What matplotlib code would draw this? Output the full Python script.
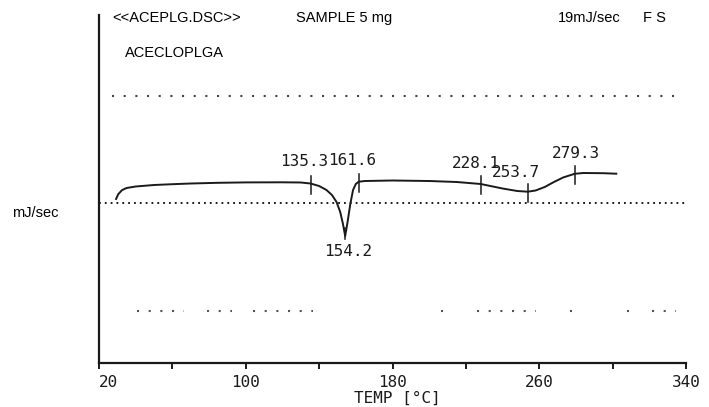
import matplotlib.pyplot as plt
import numpy as np

plt.rcParams["lines.scale_dashes"] = False

INK = "#1a1a1a"
MONO = "DejaVu Sans Mono"
SANS = "Liberation Sans"

# DSC trace (temperature in deg C, heat flow in chart units)
temp = [29.3, 30.5, 32.5, 35, 40, 50, 60, 70, 85, 100, 120, 130, 135.3, 140,
        144, 147, 149.5, 151.5, 153, 154.2, 155.5, 157, 158.5, 160, 161.6, 165,
        180, 200, 215, 228.1, 240, 248, 253.7, 258, 263, 268, 273, 279.3, 284,
        295, 302]
heat_flow = [163.7, 168.5, 172.5, 174.7, 176.2, 177.7, 178.5, 179.2, 179.9,
             180.3, 180.4, 180.2, 179.2, 176.7, 172.7, 167.7, 160.7, 150.7,
             138.7, 126.7, 140.7, 158.7, 172.7, 178.7, 181.0, 181.7, 182.2,
             181.7, 180.7, 178.7, 174.2, 171.7, 171.0, 172.2, 175.7, 180.7,
             185.2, 188.9, 189.7, 189.5, 189.0]

peak_temps = [135.3, 154.2, 161.6, 228.1, 253.7, 279.3]
peak_labels = ["135.3", "154.2", "161.6", "228.1", "253.7", "279.3"]
label_x = [131.8, 155.8, 158.0, 225.7, 247.5, 280.2]
label_y = [201.7, 110.7, 202.2, 198.7, 190.5, 209.0]

x_ticks = [20, 60, 100, 140, 180, 220, 260, 300, 340]
x_tick_labels = ["20", "", "100", "", "180", "", "260", "", "340"]

baseline_y = 160.0
upper_grid_y = 266.7
lower_grid_y = 51.7
lower_grid_runs = [(40.7, 66.4), (78.9, 92.6), (104.0, 136.7), (206.5, 207.5),
                   (226.0, 258.4), (277.0, 278.0), (308.0, 309.0), (321.7, 334.3)]


def main() -> None:
    fig = plt.figure(figsize=(7.09, 4.07), dpi=100)
    ax = fig.add_axes([99 / 709, 44.3 / 407, 587 / 709, 347.7 / 407])

    ax.set_xlim(20, 340)
    ax.set_ylim(0, 347.7)

    # dotted reference lines
    ax.axhline(baseline_y, color=INK, lw=1.4, linestyle=(0, (1.3, 2.9)))
    ax.plot([27, 338], [upper_grid_y] * 2, color="#444444", lw=1.5,
            linestyle=(0, (1.5, 6.9)))
    for start, end in lower_grid_runs:
        ax.plot([start, end], [lower_grid_y] * 2, color="#555555", lw=1.5,
                linestyle=(0, (1.5, 6.9)))

    ax.plot(temp, heat_flow, color=INK, lw=1.4)

    # short vertical markers where the peaks were picked
    marker_y = np.interp(peak_temps, temp, heat_flow)
    for t, y in zip(peak_temps, marker_y):
        if t == 154.2:
            ax.plot([t, t], [y - 3, y + 8], color=INK, lw=1.1)
        else:
            ax.plot([t, t], [y - 10, y + 8], color=INK, lw=1.1)

    for x, y, text in zip(label_x, label_y, peak_labels):
        ax.text(x, y, text, ha="center", va="center", family=MONO,
                fontsize=11.5, color=INK)

    for side in ["top", "right"]:
        ax.spines[side].set_visible(False)
    ax.spines["left"].set_linewidth(1.6)
    ax.spines["bottom"].set_linewidth(1.6)
    ax.spines["left"].set_color(INK)
    ax.spines["bottom"].set_color(INK)

    ax.set_yticks([])
    ax.set_xticks(x_ticks)
    ax.set_xticklabels(x_tick_labels, family=MONO, fontsize=11.5, color=INK)
    ax.get_xticklabels()[0].set_horizontalalignment("left")
    ax.tick_params(axis="x", direction="out", length=4.5, width=1.4,
                   color=INK, pad=4)

    ax.set_xlabel("TEMP [°C]", family=MONO, fontsize=11.5, color=INK)
    ax.xaxis.set_label_coords(0.509, -0.102)
    ax.xaxis.label.set_va("center")

    # header block printed by the instrument
    header = dict(family=SANS, fontsize=10.5, color="black", va="center")
    fig.text(112 / 709, 1 - 18 / 407, "<<ACEPLG.DSC>>", **header)
    fig.text(296 / 709, 1 - 18 / 407, "SAMPLE 5 mg", **header)
    fig.text(558 / 709, 1 - 18 / 407, "19mJ/sec", **header)
    fig.text(643 / 709, 1 - 18 / 407, "F S", **header)
    fig.text(125 / 709, 1 - 53 / 407, "ACECLOPLGA", **header)
    fig.text(12 / 709, 1 - 213 / 407, "mJ/sec", **header)

    fig.savefig("out.png", dpi=100)
    plt.close(fig)


if __name__ == "__main__":
    main()
